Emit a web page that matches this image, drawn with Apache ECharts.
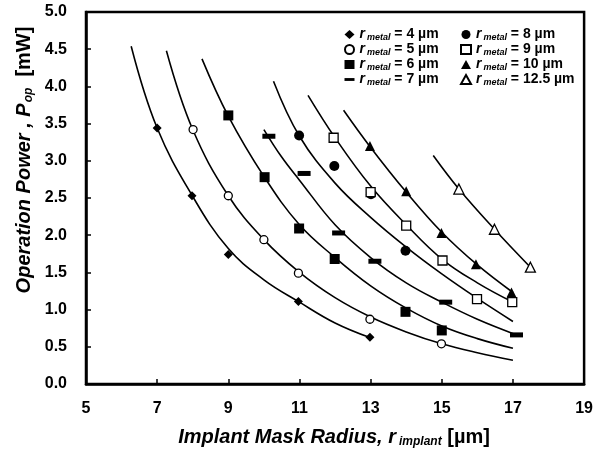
<!DOCTYPE html>
<html>
<head>
<meta charset="utf-8">
<script src="https://cdn.jsdelivr.net/npm/echarts@6/dist/echarts.min.js"></script>
<style>
  html, body { margin: 0; padding: 0; background: #fff; }
  #chart { width: 596px; height: 454px; }
</style>
</head>
<body>
<div id="chart"></div>
<script>
// measured points, [r_implant, P_op]
const pts4 = [[7.0, 3.44], [7.98, 2.53], [9.0, 1.74], [10.97, 1.11], [12.98, 0.63]];
const pts5 = [[8.01, 3.42], [9.0, 2.53], [10.0, 1.94], [10.97, 1.49], [12.98, 0.87], [14.99, 0.54]];
const pts6 = [[9.0, 3.61], [10.02, 2.78], [10.99, 2.09], [11.99, 1.68], [13.98, 0.97], [15.0, 0.72]];
const pts7 = [[10.14, 3.33], [11.13, 2.83], [12.1, 2.03], [13.12, 1.65], [15.11, 1.10], [17.1, 0.66]];
const pts8 = [[10.99, 3.34], [11.98, 2.93], [13.01, 2.55], [13.98, 1.79]];
const pts9 = [[11.96, 3.31], [13.0, 2.58], [14.0, 2.13], [15.02, 1.66], [15.99, 1.14], [16.98, 1.10]];
const pts10 = [[12.98, 3.20], [14.0, 2.59], [14.99, 2.03], [15.96, 1.61], [16.96, 1.23]];
const pts125 = [[15.48, 2.62], [16.48, 2.08], [17.49, 1.57]];

// fitted curves
const fit4 = [[6.27, 4.54], [7, 3.44], [8, 2.52], [9, 1.82], [10, 1.40], [11, 1.10], [12, 0.82], [13, 0.62]];
const fit5 = [[7.26, 4.48], [8, 3.42], [9, 2.53], [10, 1.94], [11, 1.50], [12, 1.16], [13, 0.90], [14, 0.70], [15, 0.54], [16, 0.42], [17, 0.32]];
const fit6 = [[8.26, 4.37], [9, 3.60], [10, 2.79], [11, 2.14], [12, 1.70], [13, 1.32], [14, 1.02], [15, 0.78], [16, 0.61], [17, 0.48]];
const fit7 = [[10.0, 3.42], [10.5, 3.05], [11, 2.74], [12, 2.14], [13, 1.70], [14, 1.36], [15, 1.10], [16, 0.87], [17.1, 0.66]];
const fit8 = [[10.27, 4.07], [11, 3.33], [12, 2.70], [13, 2.24], [14, 1.84], [15, 1.48], [16, 1.15], [17, 0.84]];
const fit9 = [[11.24, 3.88], [12, 3.31], [13, 2.66], [14, 2.14], [15, 1.68], [16, 1.36], [17, 1.10]];
const fit10 = [[12.24, 3.68], [13, 3.18], [14, 2.58], [15, 2.04], [16, 1.60], [17, 1.23]];
const fit125 = [[14.76, 3.07], [15.48, 2.62], [16.48, 2.08], [17.49, 1.57]];

let font = 'Liberation Sans, Arial, sans-serif';

function scatter(name, data, symbol, size, open) {
  return {
    name: name,
    type: 'scatter',
    data: data,
    symbol: symbol,
    symbolSize: size,
    z: 5,
    itemStyle: open
      ? { color: '#fff', borderColor: '#000', borderWidth: 1.3, opacity: 1 }
      : { color: '#000', opacity: 1 }
  };
}

function curve(name, data) {
  return {
    name: name,
    type: 'line',
    data: data,
    smooth: 0.4,
    showSymbol: false,
    silent: true,
    z: 2,
    lineStyle: { color: '#000', width: 1.6 }
  };
}

let legendText = {
  fontFamily: font,
  fontWeight: 'bold',
  fontSize: 14,
  color: '#000',
  rich: {
    r: { fontFamily: font, fontStyle: 'italic', fontWeight: 'bold', fontSize: 14, lineHeight: 15 },
    s: { fontFamily: font, fontStyle: 'italic', fontWeight: 'bold', fontSize: 9, lineHeight: 15, verticalAlign: 'bottom', padding: [6, 0, 0, 2] },
    t: { fontFamily: font, fontWeight: 'bold', fontSize: 14, lineHeight: 15 }
  }
};

function legendFmt(name) {
  return '{r|r}{s|metal}{t| = ' + name.slice(1) + ' µm}';
}

let dashIcon = 'path://M0,0H14V4H0Z';

let drawCharts = echarts.init(document.getElementById('chart'));
option = {
  animation: false,
  backgroundColor: '#fff',
  grid: {
    left: 86, right: 7, top: 12, bottom: 70,
    show: true, borderColor: '#000', borderWidth: 2.5
  },
  legend: [
    {
      left: 339, top: 22, orient: 'vertical',
      itemWidth: 10, itemHeight: 9, itemGap: 0,
      textStyle: legendText, formatter: legendFmt,
      data: ['r4', 'r5', 'r6', { name: 'r7', icon: dashIcon }]
    },
    {
      left: 455, top: 22, orient: 'vertical',
      itemWidth: 10, itemHeight: 9, itemGap: 0,
      textStyle: legendText, formatter: legendFmt,
      data: ['r8', 'r9', 'r10', 'r12.5']
    }
  ],
  xAxis: {
    type: 'value', min: 5, max: 19, interval: 2,
    splitLine: { show: false },
    axisLine: { lineStyle: { color: '#000', width: 2.5 } },
    axisTick: { inside: true, length: 5, lineStyle: { color: '#000', width: 1.5 } },
    axisLabel: { margin: 17, color: '#000', fontFamily: font, fontWeight: 'bold', fontSize: 16 }
  },
  yAxis: {
    type: 'value', min: 0, max: 5, interval: 0.5,
    splitLine: { show: false },
    axisLine: { lineStyle: { color: '#000', width: 2.5 } },
    axisTick: { inside: true, length: 5, lineStyle: { color: '#000', width: 1.5 } },
    axisLabel: {
      margin: 19, color: '#000', fontFamily: font, fontWeight: 'bold', fontSize: 16,
      formatter: function (v) { return v.toFixed(1); }
    }
  },
  graphic: [
    {
      type: 'text', x: 334, y: 437,
      style: {
        text: '{b|Implant Mask Radius, }{i|r}{s|implant}{n| [µm]}',
        align: 'center', verticalAlign: 'middle',
        rich: {
          b: { fontFamily: font, fontStyle: 'italic', fontWeight: 'bold', fontSize: 20, lineHeight: 22 },
          i: { fontFamily: font, fontStyle: 'italic', fontWeight: 'bold', fontSize: 20, lineHeight: 22 },
          s: { fontFamily: font, fontStyle: 'italic', fontWeight: 'bold', fontSize: 12, lineHeight: 22, verticalAlign: 'bottom', padding: [8, 0, 0, 3] },
          n: { fontFamily: font, fontWeight: 'bold', fontSize: 20, lineHeight: 22 }
        }
      }
    },
    {
      type: 'text', x: 24, y: 160, rotation: Math.PI / 2,
      style: {
        text: '{b|Operation Power , }{i|P}{s|op}{n|  [mW]}',
        align: 'center', verticalAlign: 'middle',
        rich: {
          b: { fontFamily: font, fontStyle: 'italic', fontWeight: 'bold', fontSize: 20, lineHeight: 22 },
          i: { fontFamily: font, fontStyle: 'italic', fontWeight: 'bold', fontSize: 20, lineHeight: 22 },
          s: { fontFamily: font, fontStyle: 'italic', fontWeight: 'bold', fontSize: 12, lineHeight: 22, verticalAlign: 'bottom', padding: [8, 0, 0, 1] },
          n: { fontFamily: font, fontWeight: 'bold', fontSize: 20, lineHeight: 22 }
        }
      }
    }
  ],
  series: [
    curve('c4', fit4), curve('c5', fit5), curve('c6', fit6), curve('c7', fit7),
    curve('c8', fit8), curve('c9', fit9), curve('c10', fit10), curve('c12.5', fit125),
    scatter('r4', pts4, 'diamond', 9, false),
    scatter('r5', pts5, 'circle', 8, true),
    scatter('r6', pts6, 'rect', 10, false),
    scatter('r7', pts7, 'rect', [13, 5], false),
    scatter('r8', pts8, 'circle', 10, false),
    scatter('r9', pts9, 'rect', 9, true),
    scatter('r10', pts10, 'triangle', 10, false),
    scatter('r12.5', pts125, 'triangle', 10, true)
  ]
};
drawCharts.setOption(option);
</script>
</body>
</html>
